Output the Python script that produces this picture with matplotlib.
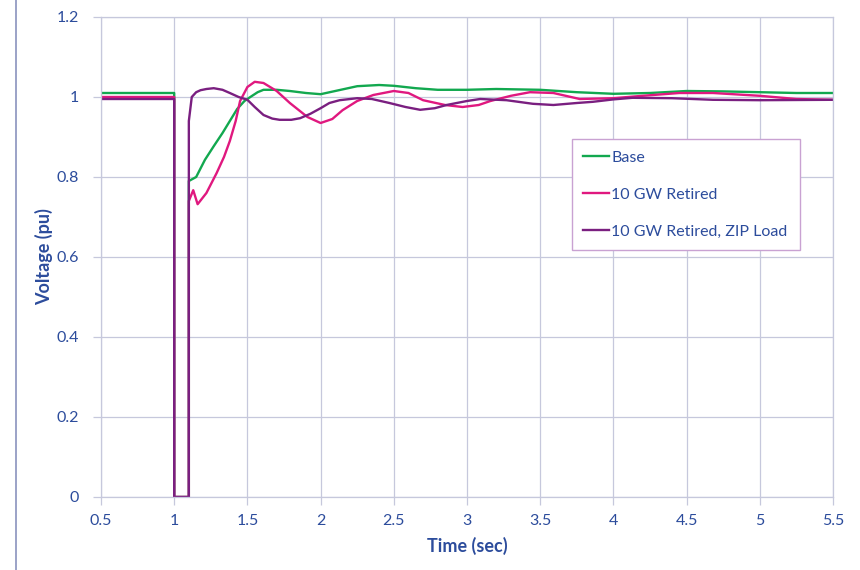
import matplotlib
matplotlib.use("Agg")
import matplotlib.pyplot as plt
from matplotlib.lines import Line2D

# Base case
t_base = [0.5, 1.0, 1.0, 1.1, 1.1, 1.15, 1.21, 1.27, 1.33, 1.38, 1.43, 1.48, 1.52, 1.57,
          1.61, 1.7, 1.79, 1.9, 2.0, 2.1, 2.25, 2.4, 2.5, 2.65, 2.8, 3.0, 3.2, 3.5, 3.75,
          4.0, 4.25, 4.5, 4.75, 5.0, 5.25, 5.5]
v_base = [1.01, 1.01, 0, 0, 0.79, 0.80, 0.843, 0.877, 0.91, 0.94, 0.97, 0.99, 1.0, 1.012,
          1.018, 1.018, 1.015, 1.01, 1.007, 1.015, 1.027, 1.03, 1.028, 1.022, 1.018, 1.018,
          1.02, 1.018, 1.012, 1.008, 1.01, 1.015, 1.014, 1.012, 1.01, 1.01]

# 10 GW retired
t_ret = [0.5, 1.0, 1.0, 1.1, 1.1, 1.13, 1.16, 1.22, 1.29, 1.34, 1.38, 1.42, 1.45, 1.5,
         1.55, 1.61, 1.7, 1.79, 1.91, 2.0, 2.08, 2.15, 2.25, 2.36, 2.5, 2.6, 2.7, 2.85,
         2.97, 3.08, 3.16, 3.3, 3.43, 3.59, 3.77, 4.0, 4.2, 4.45, 4.68, 5.0, 5.25, 5.5]
v_ret = [1.0, 1.0, 0, 0, 0.74, 0.767, 0.732, 0.76, 0.81, 0.85, 0.89, 0.94, 0.99, 1.025,
         1.038, 1.035, 1.015, 0.985, 0.95, 0.935, 0.945, 0.967, 0.99, 1.005, 1.015, 1.01,
         0.992, 0.98, 0.975, 0.98, 0.99, 1.003, 1.012, 1.01, 0.995, 0.997, 1.003, 1.01,
         1.01, 1.003, 0.995, 0.993]

# 10 GW retired, ZIP load
t_zip = [0.5, 1.0, 1.0, 1.1, 1.1, 1.11, 1.12, 1.15, 1.18, 1.22, 1.27, 1.33, 1.38, 1.44,
         1.5, 1.55, 1.61, 1.67, 1.72, 1.8, 1.86, 1.93, 2.0, 2.06, 2.13, 2.25, 2.35, 2.47,
         2.58, 2.68, 2.78, 2.86, 3.0, 3.09, 3.27, 3.45, 3.59, 3.75, 3.86, 4.0, 4.13, 4.4,
         4.68, 5.0, 5.5]
v_zip = [0.995, 0.995, 0, 0, 0.94, 0.97, 1.0, 1.012, 1.017, 1.02, 1.022, 1.018, 1.01, 1.0,
         0.993, 0.975, 0.955, 0.946, 0.943, 0.943, 0.947, 0.958, 0.972, 0.985, 0.992,
         0.997, 0.995, 0.985, 0.975, 0.968, 0.972, 0.98, 0.99, 0.995, 0.992, 0.983, 0.98,
         0.985, 0.988, 0.994, 0.998, 0.997, 0.993, 0.992, 0.993]

x_ticks = [0.5, 1, 1.5, 2, 2.5, 3, 3.5, 4, 4.5, 5, 5.5]
x_labels = ["0.5", "1", "1.5", "2", "2.5", "3", "3.5", "4", "4.5", "5", "5.5"]
y_ticks = [0, 0.2, 0.4, 0.6, 0.8, 1.0, 1.2]
y_labels = ["0", "0.2", "0.4", "0.6", "0.8", "1", "1.2"]

text_col = "#2c4c9c"
grid_col = "#c6c8dc"

plt.rcParams["font.family"] = ["Lato", "DejaVu Sans"]

fig = plt.figure(figsize=(8.6, 5.7), dpi=100)
ax = fig.add_axes([101 / 860, 1 - 497 / 570, 732 / 860, 480 / 570])

ax.plot(t_base, v_base, color="#12a84f", lw=1.7, label="Base")
ax.plot(t_ret, v_ret, color="#e0187f", lw=1.7, label="10 GW Retired")
ax.plot(t_zip, v_zip, color="#7a1f80", lw=1.7, label="10 GW Retired, ZIP Load")

ax.set_xlim(0.5, 5.5)
ax.set_ylim(0, 1.2)
ax.set_xticks(x_ticks)
ax.set_xticklabels(x_labels)
ax.set_yticks(y_ticks)
ax.set_yticklabels(y_labels)
ax.grid(True, color=grid_col, lw=0.9)
ax.set_axisbelow(True)
for s in ax.spines.values():
    s.set_color(grid_col)
    s.set_linewidth(0.9)
ax.tick_params(colors=grid_col, labelcolor=text_col, labelsize=11.5, length=6, width=0.9)
ax.tick_params(axis="x", pad=6)
ax.tick_params(axis="y", pad=10)

ax.set_xlabel("Time (sec)", color=text_col, fontsize=13, fontweight="bold", labelpad=7)
ax.set_ylabel("Voltage (pu)", color=text_col, fontsize=13, fontweight="bold", labelpad=2)

leg = ax.legend(loc="upper left", bbox_to_anchor=(0.643, 0.746), fontsize=11.5,
                handlelength=1.6, handletextpad=0.15, labelspacing=1.42,
                borderpad=0.74, fancybox=False, framealpha=1, borderaxespad=0)
leg.get_frame().set_edgecolor("#c9a2d2")
leg.get_frame().set_linewidth(1.0)
for txt in leg.get_texts():
    txt.set_color(text_col)

# page border on the left
fig.add_artist(Line2D([15.5 / 860, 15.5 / 860], [0, 1], color="#8a92be", lw=1.2))

fig.savefig("out.png", dpi=100)
